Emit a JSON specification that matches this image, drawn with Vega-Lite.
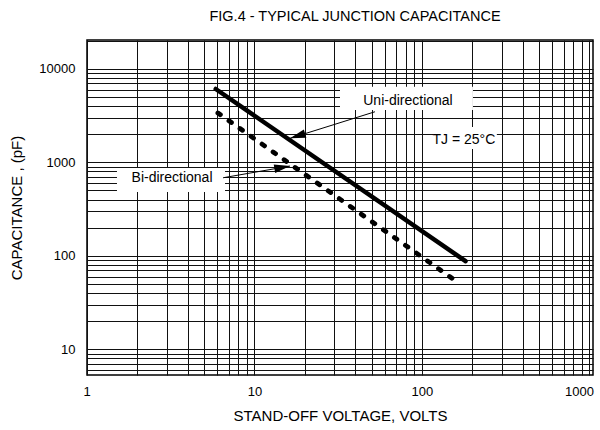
{
  "$schema": "https://vega.github.io/schema/vega-lite/v6.json",
  "width": 506,
  "height": 335,
  "autosize": {"type": "none"},
  "padding": {"left": 87, "top": 40, "right": 7, "bottom": 55},
  "background": "white",
  "config": {
    "font": "Liberation Sans",
    "view": {"stroke": "black", "strokeWidth": 1.5},
    "axis": {"grid": true, "gridColor": "#111", "gridOpacity": 1, "gridWidth": 1, "ticks": false, "domain": false, "labelColor": "black", "titleColor": "black", "labelFontSize": 13, "titleFontSize": 15, "titleFontWeight": "normal", "labelOverlap": false, "labelFont": "Liberation Sans", "titleFont": "Liberation Sans"}
  },
  "title": {"text": "FIG.4 - TYPICAL JUNCTION CAPACITANCE", "fontSize": 14.5, "fontWeight": "normal", "font": "Liberation Sans", "color": "black", "offset": 10, "dx": 15},
  "datasets": {
    "curves": [
      {"series": "Uni-directional", "v": 5.87, "c": 6100},
      {"series": "Uni-directional", "v": 182, "c": 87.7},
      {"series": "Bi-directional", "v": 6.05, "c": 3375},
      {"series": "Bi-directional", "v": 164, "c": 51.9}
    ],
    "boxes": [
      {"name": "uni", "x1": 32.4, "x2": 201.5, "y1": 6440, "y2": 3630},
      {"name": "tj", "x1": 116.4, "x2": 280, "y1": 2388, "y2": 1387},
      {"name": "bi", "x1": 1.51, "x2": 6.67, "y1": 869, "y2": 481}
    ],
    "labels": [
      {"text": "Uni-directional", "v": 82.5, "c": 4530},
      {"text": "TJ = 25°C", "v": 178, "c": 1734},
      {"text": "Bi-directional", "v": 3.22, "c": 679}
    ],
    "arrows": [
      {"name": "uni", "v": 52.4, "c": 3480, "v2": 16.3, "c2": 1808},
      {"name": "bi", "v": 6.49, "c": 684, "v2": 16.3, "c2": 913}
    ]
  },
  "layer": [
    {
      "data": {"name": "boxes"},
      "mark": {"type": "rect", "fill": "white", "stroke": null},
      "encoding": {
        "x": {"field": "x1", "type": "quantitative", "scale": {"type": "log", "domain": [1, 1050], "nice": false},
          "axis": {"values": [1,2,3,4,5,6,7,8,9,10,20,30,40,50,60,70,80,90,100,200,300,400,500,600,700,800,900,1000], "labelExpr": "(datum.value==1||datum.value==10||datum.value==100||datum.value==1000) ? format(datum.value,'d') : ''", "labelPadding": 10, "labelFlush": 6, "labelFlushOffset": 4, "title": "STAND-OFF VOLTAGE, VOLTS", "titlePadding": 10}},
        "x2": {"field": "x2"},
        "y": {"field": "y1", "type": "quantitative", "scale": {"type": "log", "domain": [5.3, 20400], "nice": false},
          "axis": {"values": [6,7,8,9,10,20,30,40,50,60,70,80,90,100,200,300,400,500,600,700,800,900,1000,2000,3000,4000,5000,6000,7000,8000,9000,10000,20000], "labelExpr": "(datum.value==10||datum.value==100||datum.value==1000||datum.value==10000) ? format(datum.value,'d') : ''", "labelPadding": 12, "title": "CAPACITANCE , (pF)", "titlePadding": 14}},
        "y2": {"field": "y2"}
      }
    },
    {
      "data": {"name": "curves"},
      "transform": [{"filter": "datum.series == 'Uni-directional'"}],
      "mark": {"type": "line", "color": "black", "strokeWidth": 4.5, "strokeCap": "round"},
      "encoding": {
        "x": {"field": "v", "type": "quantitative"},
        "y": {"field": "c", "type": "quantitative"}
      }
    },
    {
      "data": {"name": "curves"},
      "transform": [{"filter": "datum.series == 'Bi-directional'"}],
      "mark": {"type": "line", "color": "black", "strokeWidth": 4.8, "strokeCap": "round", "strokeDash": [3, 10.5]},
      "encoding": {
        "x": {"field": "v", "type": "quantitative"},
        "y": {"field": "c", "type": "quantitative"}
      }
    },
    {
      "data": {"name": "arrows"},
      "mark": {"type": "rule", "color": "black", "strokeWidth": 1},
      "encoding": {
        "x": {"field": "v", "type": "quantitative"},
        "y": {"field": "c", "type": "quantitative"},
        "x2": {"field": "v2"},
        "y2": {"field": "c2"}
      }
    },
    {
      "data": {"name": "arrows"},
      "transform": [{"filter": "datum.name == 'uni'"}],
      "mark": {"type": "point", "shape": "M0,0 L-1,-0.27 L-1,0.27 Z", "filled": true, "color": "black", "opacity": 1, "size": 1000, "angle": 162.6},
      "encoding": {
        "x": {"field": "v2", "type": "quantitative"},
        "y": {"field": "c2", "type": "quantitative"}
      }
    },
    {
      "data": {"name": "arrows"},
      "transform": [{"filter": "datum.name == 'bi'"}],
      "mark": {"type": "point", "shape": "M0,0 L-1,-0.27 L-1,0.27 Z", "filled": true, "color": "black", "opacity": 1, "size": 1000, "angle": 350.1},
      "encoding": {
        "x": {"field": "v2", "type": "quantitative"},
        "y": {"field": "c2", "type": "quantitative"}
      }
    },
    {
      "data": {"name": "labels"},
      "mark": {"type": "text", "fontSize": 14, "color": "black", "font": "Liberation Sans"},
      "encoding": {
        "x": {"field": "v", "type": "quantitative"},
        "y": {"field": "c", "type": "quantitative"},
        "text": {"field": "text"}
      }
    }
  ]
}
